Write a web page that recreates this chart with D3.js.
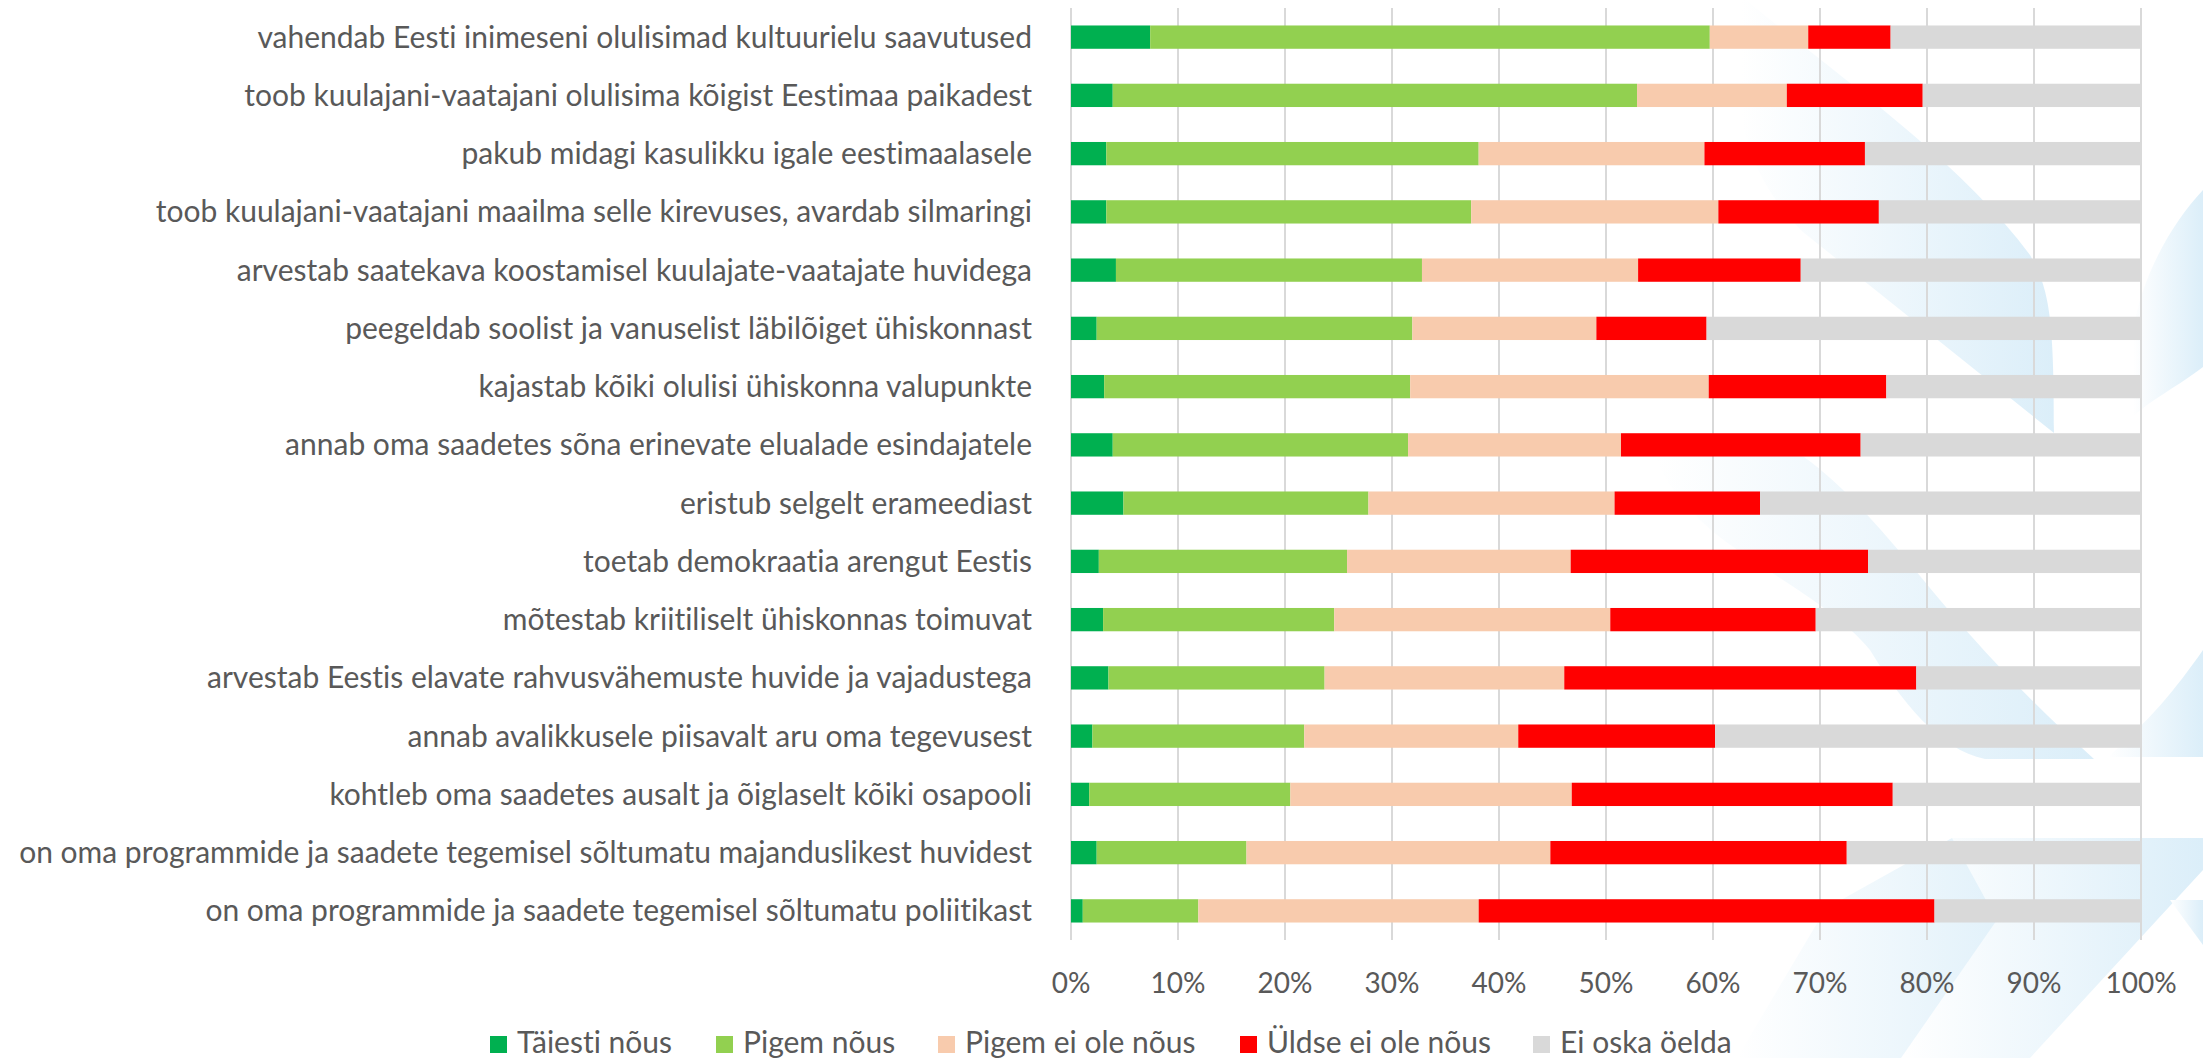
<!DOCTYPE html>
<html>
<head>
<meta charset="utf-8">
<script src="https://cdn.jsdelivr.net/npm/d3@7"></script>
<style>
  html, body { margin: 0; padding: 0; background: #ffffff; }
  svg { display: block; }
  text { font-variant-ligatures: none; font-feature-settings: "liga" 0; }
</style>
</head>
<body>
<svg id="chart" width="2203" height="1058"></svg>
<script>
const categories = [
  "vahendab Eesti inimeseni olulisimad kultuurielu saavutused",
  "toob kuulajani-vaatajani olulisima kõigist Eestimaa paikadest",
  "pakub midagi kasulikku igale eestimaalasele",
  "toob kuulajani-vaatajani maailma selle kirevuses, avardab silmaringi",
  "arvestab saatekava koostamisel kuulajate-vaatajate huvidega",
  "peegeldab soolist ja vanuselist läbilõiget ühiskonnast",
  "kajastab kõiki olulisi ühiskonna valupunkte",
  "annab oma saadetes sõna erinevate elualade esindajatele",
  "eristub selgelt erameediast",
  "toetab demokraatia arengut Eestis",
  "mõtestab kriitiliselt ühiskonnas toimuvat",
  "arvestab Eestis elavate rahvusvähemuste huvide ja vajadustega",
  "annab avalikkusele piisavalt aru oma tegevusest",
  "kohtleb oma saadetes ausalt ja õiglaselt kõiki osapooli",
  "on oma programmide ja saadete tegemisel sõltumatu majanduslikest huvidest",
  "on oma programmide ja saadete tegemisel sõltumatu poliitikast"
];
const seriesNames = ["Täiesti nõus", "Pigem nõus", "Pigem ei ole nõus", "Üldse ei ole nõus", "Ei oska öelda"];
const seriesColors = ["#00b050", "#92d050", "#f8cbad", "#ff0000", "#d9d9d9"];
const taiestiNous  = [7.4, 3.9, 3.3, 3.3, 4.2, 2.4, 3.1, 3.9, 4.9, 2.6, 3.0, 3.5, 2.0, 1.7, 2.4, 1.1];
const pigemNous    = [52.3, 49.0, 34.8, 34.1, 28.6, 29.5, 28.6, 27.6, 22.9, 23.2, 21.6, 20.2, 19.8, 18.8, 14.0, 10.8];
const pigemEiNous  = [9.2, 14.0, 21.1, 23.1, 20.2, 17.2, 27.9, 19.9, 23.0, 20.9, 25.8, 22.4, 20.0, 26.3, 28.4, 26.2];
const uldseEiNous  = [7.7, 12.7, 15.0, 15.0, 15.2, 10.3, 16.6, 22.4, 13.6, 27.8, 19.2, 32.9, 18.4, 30.0, 27.7, 42.6];
const eiOskaOelda  = [23.4, 20.4, 25.8, 24.5, 31.8, 40.6, 23.8, 26.2, 35.6, 25.5, 30.4, 21.0, 39.8, 23.2, 27.5, 19.3];
const tickValues = [0, 0.1, 0.2, 0.3, 0.4, 0.5, 0.6, 0.7, 0.8, 0.9, 1.0];

const seriesValues = [taiestiNous, pigemNous, pigemEiNous, uldseEiNous, eiOskaOelda];
const rows = categories.map((c, i) => {
  const r = { category: c };
  seriesNames.forEach((s, k) => { r[s] = seriesValues[k][i]; });
  return r;
});

const FONT = "Lato, 'Open Sans', sans-serif";
const TEXT = "#595959";
const svg = d3.select("#chart");

const margin = { left: 1071, right: 62, top: 8, bottom: 118 };
const W = 2203, H = 1058;
const x = d3.scaleLinear().domain([0, 1]).range([margin.left, W - margin.right]);
const y = d3.scaleBand().domain(categories).range([margin.top, H - margin.bottom]).paddingInner(0.6).paddingOuter(0.3);

// Background watermark (faint light-blue shapes)
const defs = svg.append("defs");
const grad = defs.append("linearGradient").attr("id", "wm").attr("x1", "0").attr("x2", "1").attr("y1", "0").attr("y2", "0");
grad.append("stop").attr("offset", "0").attr("stop-color", "#ffffff");
grad.append("stop").attr("offset", "1").attr("stop-color", "#dbeef9");
const wm = svg.append("g").attr("fill", "url(#wm)");
wm.append("path").attr("d", "M1741,0 L1746,0 C1830,70 1960,160 2030,255 C2050,290 2054,320 2054,433 L1803,232 C1770,200 1741,150 1741,100 Z");
wm.append("path").attr("d", "M1656,457 C1680,452 1760,450 1804,457 C1850,490 1890,540 1940,600 C1990,660 2040,710 2094,759 L1985,759 C1940,750 1900,700 1870,650 C1830,600 1740,560 1700,520 C1670,490 1660,470 1656,457 Z");
wm.append("path").attr("d", "M1952,838 L2203,838 L2203,870 L2030,1058 L1901,1058 L1997,920 Z");
wm.append("path").attr("d", "M1841,900 L1952,838 L1997,920 L1901,1058 L1737,1058 L1819,920 Z").attr("opacity", 0.8);
wm.append("path").attr("d", "M2203,190 C2170,225 2140,280 2133,333 L2133,417 C2150,400 2180,385 2203,367 Z");
wm.append("path").attr("d", "M2203,650 C2175,690 2150,720 2108,757 L2203,757 Z");
wm.append("path").attr("d", "M2170,900 L2203,900 L2203,945 Z");

// Gridlines
svg.append("g")
  .selectAll("line")
  .data(tickValues)
  .join("line")
  .attr("x1", d => x(d)).attr("x2", d => x(d))
  .attr("y1", margin.top).attr("y2", H - margin.bottom)
  .attr("stroke", "#d9d9d9").attr("stroke-width", 2);

// Stacked bars
const stack = d3.stack().keys(seriesNames).offset(d3.stackOffsetExpand);
const layers = stack(rows);
svg.append("g")
  .selectAll("g")
  .data(layers)
  .join("g")
  .attr("fill", (d, i) => seriesColors[i])
  .selectAll("rect")
  .data(d => d)
  .join("rect")
  .attr("x", d => x(d[0]))
  .attr("width", d => x(d[1]) - x(d[0]))
  .attr("y", d => y(d.data.category))
  .attr("height", y.bandwidth());

// Category labels
svg.append("g")
  .selectAll("text")
  .data(categories)
  .join("text")
  .attr("x", 1032)
  .attr("y", d => y(d) + y.bandwidth() / 2)
  .attr("dy", "0.35em")
  .attr("text-anchor", "end")
  .attr("font-family", FONT)
  .attr("font-size", 30)
  .attr("fill", TEXT)
  .text(d => d);

// X axis tick labels
const fmt = d3.format(".0%");
svg.append("g")
  .selectAll("text")
  .data(tickValues)
  .join("text")
  .attr("x", d => x(d))
  .attr("y", 993)
  .attr("text-anchor", "middle")
  .attr("font-family", FONT)
  .attr("font-size", 28)
  .attr("fill", TEXT)
  .text(d => fmt(d));

// Legend
const legendX = [490, 716, 938, 1240, 1533];
const legend = svg.append("g");
const items = legend.selectAll("g").data(seriesNames).join("g")
  .attr("transform", (d, i) => `translate(${legendX[i]},0)`);
items.append("rect").attr("width", 17).attr("height", 17).attr("y", 1036).attr("fill", (d, i) => seriesColors[i]);
items.append("text")
  .attr("x", 27).attr("y", 1053)
  .attr("font-family", FONT).attr("font-size", 30).attr("fill", TEXT)
  .text(d => d);
</script>
</body>
</html>
